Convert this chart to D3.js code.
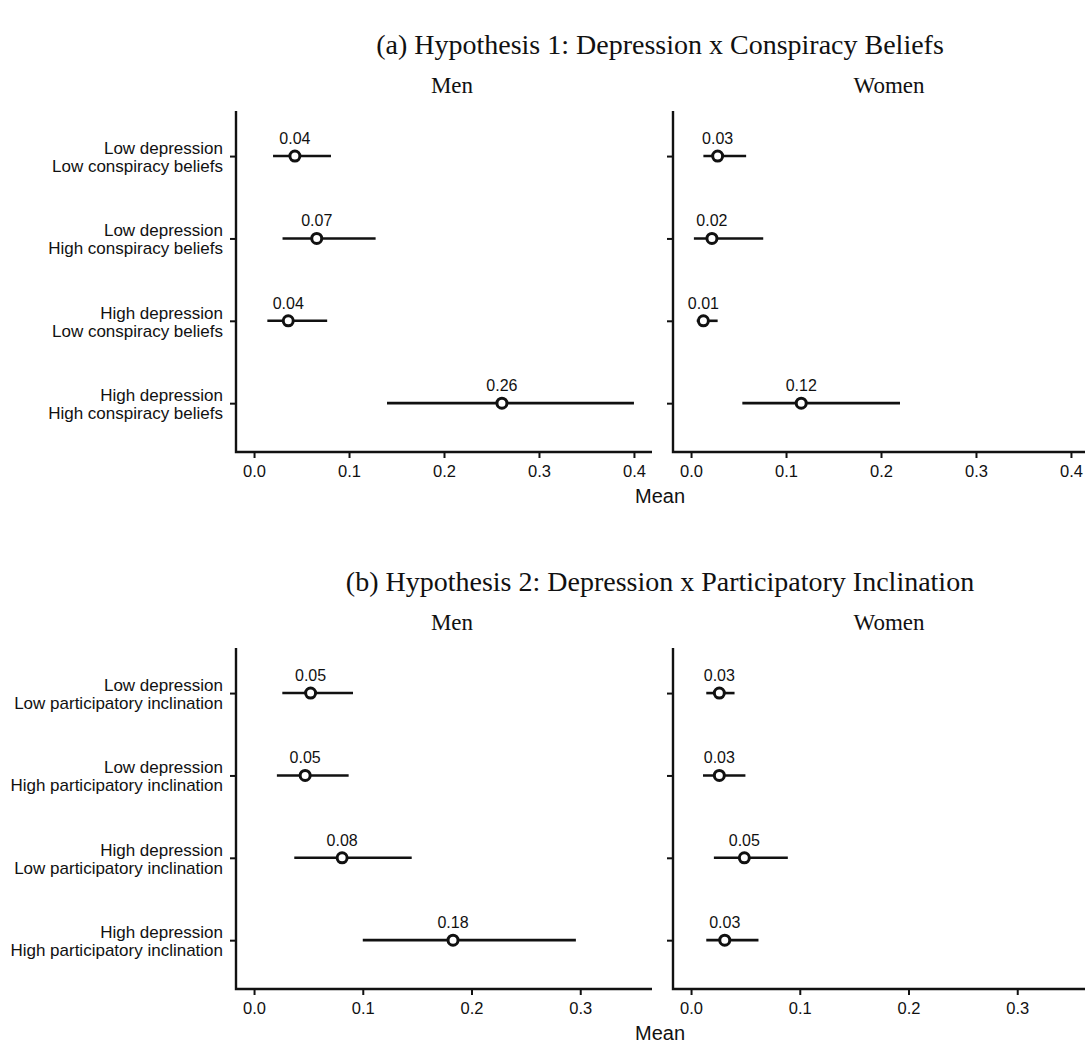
<!DOCTYPE html>
<html>
<head>
<meta charset="utf-8">
<script src="https://cdn.jsdelivr.net/npm/d3@7"></script>
<style>
    body { margin: 0; background: #fff; }
    svg { display: block; }
</style>
</head>
<body>
<div id="chart"></div>
<script>
// rows (two-line category labels)
const rowsA = [
    'Low depression\nLow conspiracy beliefs',
    'Low depression\nHigh conspiracy beliefs',
    'High depression\nLow conspiracy beliefs',
    'High depression\nHigh conspiracy beliefs',
];
const rowsB = [
    'Low depression\nLow participatory inclination',
    'Low depression\nHigh participatory inclination',
    'High depression\nLow participatory inclination',
    'High depression\nHigh participatory inclination',
];

// (a) means and interval ends
const menA = [0.043, 0.066, 0.036, 0.261];
const menALow = [0.020, 0.030, 0.014, 0.140];
const menAHigh = [0.081, 0.128, 0.077, 0.400];
const womenA = [0.028, 0.022, 0.013, 0.116];
const womenALow = [0.013, 0.003, 0.006, 0.054];
const womenAHigh = [0.058, 0.076, 0.028, 0.220];

// (b) means and interval ends
const menB = [0.052, 0.047, 0.081, 0.183];
const menBLow = [0.026, 0.021, 0.037, 0.100];
const menBHigh = [0.091, 0.087, 0.145, 0.296];
const womenB = [0.026, 0.026, 0.049, 0.031];
const womenBLow = [0.014, 0.011, 0.021, 0.014];
const womenBHigh = [0.040, 0.050, 0.089, 0.062];

const ticksA = [0, 0.1, 0.2, 0.3, 0.4];
const ticksB = [0, 0.1, 0.2, 0.3];

const width = 1085;
const height = 1051;
const sans = '"Liberation Sans", Arial, sans-serif';
const serif = '"Liberation Serif", "Times New Roman", serif';
const ink = '#111';

const svg = d3.select('#chart').append('svg')
    .attr('width', width)
    .attr('height', height);

const facetX = [236, 673];
const plotW = 416;

function drawPanel(top, title, rows, facets, domain, ticks) {
    const g = svg.append('g').attr('transform', `translate(0,${top})`);
    const plotTop = 111;
    const plotBottom = 452;

    g.append('text')
        .attr('x', 660)
        .attr('y', 54)
        .attr('text-anchor', 'middle')
        .style('font-family', serif)
        .style('font-size', '28px')
        .attr('fill', ink)
        .text(title);

    const y = d3.scalePoint()
        .domain(rows)
        .range([plotTop, plotBottom])
        .padding(0.57)
        .align(0.48);

    const x = d3.scaleLinear().domain(domain).range([0, plotW]);
    const fmt = d3.format('.2f');

    facets.forEach((f, fi) => {
        const fg = g.append('g').attr('transform', `translate(${facetX[fi]},0)`);

        fg.append('text')
            .attr('x', plotW / 2 + 8)
            .attr('y', 93)
            .attr('text-anchor', 'middle')
            .style('font-family', serif)
            .style('font-size', '23px')
            .attr('fill', ink)
            .text(f.name);

        // y axis, labels only on the first facet
        const yAxis = fg.append('g')
            .call(d3.axisLeft(y).tickSize(6).tickFormat(''));
        yAxis.select('.domain').remove();
        yAxis.selectAll('line').attr('stroke', ink).attr('stroke-width', 2);

        if (fi === 0) {
            rows.forEach((r) => {
                const lines = r.split('\n');
                const t = fg.append('text')
                    .attr('text-anchor', 'end')
                    .style('font-family', sans)
                    .style('font-size', '17px')
                    .attr('fill', ink);
                lines.forEach((ln, li) => {
                    t.append('tspan')
                        .attr('x', -13)
                        .attr('y', y(r) - 2 + li * 17.7)
                        .text(ln);
                });
            });
        }

        // x axis
        const xAxis = fg.append('g')
            .attr('transform', `translate(0,${plotBottom})`)
            .call(d3.axisBottom(x).tickValues(ticks).tickSize(6).tickPadding(7).tickFormat(d3.format('.1f')));
        xAxis.select('.domain').remove();
        xAxis.selectAll('line').attr('stroke', ink).attr('stroke-width', 2);
        xAxis.selectAll('text')
            .style('font-family', sans)
            .style('font-size', '16.5px')
            .attr('fill', ink);

        // axis lines
        fg.append('path')
            .attr('d', `M0,${plotTop}V${plotBottom}H${plotW}`)
            .attr('fill', 'none')
            .attr('stroke', ink)
            .attr('stroke-width', 2.4);

        const d = rows.map((r, i) => ({ r, m: f.mean[i], lo: f.low[i], hi: f.high[i] }));

        fg.selectAll('.ci').data(d).join('line')
            .attr('class', 'ci')
            .attr('x1', (e) => x(e.lo))
            .attr('x2', (e) => x(e.hi))
            .attr('y1', (e) => y(e.r))
            .attr('y2', (e) => y(e.r))
            .attr('stroke', ink)
            .attr('stroke-width', 2.6);

        fg.selectAll('.pt').data(d).join('circle')
            .attr('class', 'pt')
            .attr('cx', (e) => x(e.m))
            .attr('cy', (e) => y(e.r))
            .attr('r', 5)
            .attr('fill', '#fff')
            .attr('stroke', ink)
            .attr('stroke-width', 3);

        fg.selectAll('.val').data(d).join('text')
            .attr('class', 'val')
            .attr('x', (e) => x(e.m))
            .attr('y', (e) => y(e.r) - 12)
            .attr('text-anchor', 'middle')
            .style('font-family', sans)
            .style('font-size', '16px')
            .attr('fill', ink)
            .text((e) => fmt(e.m));
    });

    g.append('text')
        .attr('x', 660)
        .attr('y', 503)
        .attr('text-anchor', 'middle')
        .style('font-family', sans)
        .style('font-size', '20px')
        .attr('fill', ink)
        .text('Mean');
}

drawPanel(0, '(a) Hypothesis 1: Depression x Conspiracy Beliefs', rowsA, [
    { name: 'Men', mean: menA, low: menALow, high: menAHigh },
    { name: 'Women', mean: womenA, low: womenALow, high: womenAHigh },
], [-0.019, 0.419], ticksA);

drawPanel(537, '(b) Hypothesis 2: Depression x Participatory Inclination', rowsB, [
    { name: 'Men', mean: menB, low: menBLow, high: menBHigh },
    { name: 'Women', mean: womenB, low: womenBLow, high: womenBHigh },
], [-0.0166, 0.366], ticksB);
</script>
</body>
</html>
